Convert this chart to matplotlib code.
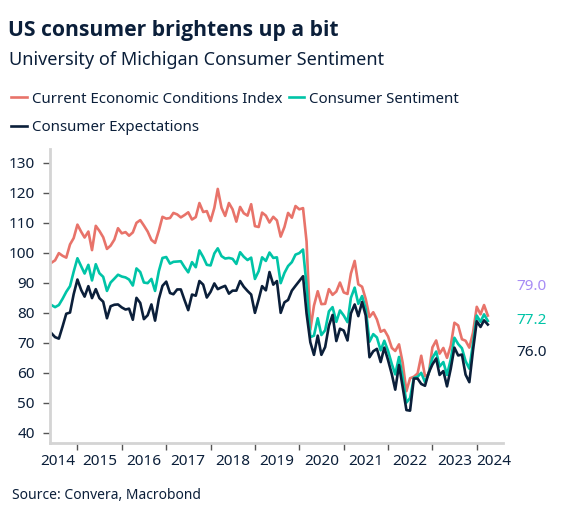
import matplotlib
matplotlib.use('Agg')
import matplotlib.pyplot as plt
import matplotlib.dates as mdates
import pandas as pd
import datetime as dt

plt.rcParams['font.family'] = ['Noto Sans', 'DejaVu Sans']

NAVY = '#0b1f3a'
RED = '#e8736a'
TEAL = '#00c4a7'
LAVENDER = '#a78cf5'

# monthly, Jun 2014 - Apr 2024
start = '2014-06-01'

current = [
    96.6, 97.4, 99.8, 98.9, 98.3, 102.7, 104.8,
    109.3, 106.9, 105.0, 107.0, 100.8, 108.9, 107.2, 105.1, 101.2, 102.3, 104.3, 108.1,
    106.4, 106.8, 105.6, 106.7, 109.9, 110.8, 109.0, 107.0, 104.2, 103.2, 107.3, 111.9,
    111.3, 111.5, 113.2, 112.7, 111.7, 112.5, 113.4, 111.0, 111.8, 116.5, 113.5, 113.8,
    110.5, 114.9, 121.2, 114.9, 112.2, 116.5, 114.4, 110.3, 115.2, 113.1, 112.3, 116.1,
    108.8, 108.5, 113.3, 112.3, 110.0, 111.9, 110.7, 105.3, 108.5, 113.2, 111.6, 115.5,
    114.4, 114.8, 103.7, 74.3, 82.3, 87.1, 82.8, 82.9, 87.8, 85.9, 87.0, 90.0,
    86.7, 86.2, 93.0, 97.2, 89.4, 88.6, 84.5, 78.5, 80.1, 77.7, 73.6, 74.2,
    72.0, 68.2, 67.2, 69.4, 63.3, 53.8, 58.1, 58.6, 59.7, 65.6, 58.8, 59.4,
    68.4, 70.7, 66.3, 68.2, 64.9, 69.0, 76.6, 75.7, 71.1, 70.6, 68.3, 73.3,
    81.9, 79.4, 82.5, 79.0,
]

sentiment = [
    82.5, 81.8, 82.5, 84.6, 86.9, 88.8, 93.6,
    98.1, 95.4, 93.0, 95.9, 90.7, 96.1, 93.1, 91.9, 87.2, 90.0, 91.3, 92.6,
    92.0, 91.7, 91.0, 89.0, 94.7, 93.5, 90.0, 89.8, 91.2, 87.2, 93.8, 98.2,
    98.5, 96.3, 96.9, 97.0, 97.1, 95.1, 93.4, 96.8, 95.1, 100.7, 98.5, 95.9,
    95.7, 99.7, 101.4, 98.8, 98.0, 98.2, 97.9, 96.2, 100.1, 98.6, 97.5, 98.3,
    91.2, 93.8, 98.4, 97.2, 100.0, 98.2, 98.4, 89.8, 93.2, 95.5, 96.8, 99.3,
    99.8, 101.0, 89.1, 71.8, 72.3, 78.1, 72.5, 74.1, 80.4, 81.8, 76.9, 80.7,
    79.0, 76.8, 84.9, 88.3, 82.9, 85.5, 81.2, 70.3, 72.8, 71.7, 67.4, 70.6,
    67.2, 62.8, 59.4, 65.2, 58.4, 50.0, 51.5, 58.2, 58.6, 59.9, 56.8, 59.7,
    64.9, 67.0, 62.0, 63.5, 59.2, 64.4, 71.6, 69.5, 68.1, 63.8, 61.3, 69.7,
    79.0, 76.9, 79.4, 77.2,
]

expectations = [
    73.1, 71.8, 71.3, 75.4, 79.6, 80.0, 86.1,
    91.0, 87.5, 85.3, 88.8, 84.8, 87.8, 84.8, 83.6, 78.1, 82.1, 82.6, 82.7,
    81.7, 81.0, 81.3, 77.6, 84.9, 83.2, 77.8, 79.1, 82.7, 77.3, 84.5, 88.9,
    90.3, 86.5, 86.1, 87.7, 87.7, 84.1, 80.8, 86.0, 85.6, 90.5, 89.3, 85.0,
    86.9, 89.7, 87.8, 88.4, 88.9, 86.3, 87.3, 87.3, 90.5, 88.6, 87.2, 86.0,
    79.9, 84.4, 88.8, 87.4, 93.5, 89.3, 90.5, 79.9, 83.4, 84.2, 87.3, 88.9,
    90.5, 92.1, 79.7, 70.1, 65.9, 72.3, 65.9, 68.5, 75.6, 79.2, 70.5, 74.6,
    74.0, 70.7, 79.7, 82.7, 78.8, 83.5, 79.0, 65.1, 67.1, 67.9, 63.5, 68.3,
    64.1, 59.4, 54.3, 62.5, 55.2, 47.5, 47.3, 58.0, 58.0, 56.2, 55.6, 59.9,
    62.7, 64.7, 59.2, 60.5, 55.4, 61.3, 68.3, 65.7, 66.0, 59.3, 56.8, 67.4,
    77.1, 75.2, 77.4, 76.0,
]

dates = pd.date_range(start, periods=len(current), freq='MS')
years = list(range(2014, 2025))

fig = plt.figure(figsize=(5.66, 5.21), dpi=100)
ax = fig.add_axes([0.0883, 0.149, 0.8004, 0.565])

l_cur, = ax.plot(dates, current, color=RED, lw=1.9, label='Current Economic Conditions Index')
l_sen, = ax.plot(dates, sentiment, color=TEAL, lw=1.9, label='Consumer Sentiment')
l_exp, = ax.plot(dates, expectations, color=NAVY, lw=1.9, label='Consumer Expectations')

ax.set_xlim(dt.datetime(2014, 5, 20), dt.datetime(2024, 8, 4))
ax.set_ylim(36.4, 134.5)
ax.set_yticks(range(40, 131, 10))

# year boundaries as ticks, labels in between
ax.set_xticks([dt.datetime(y, 1, 1) for y in years[1:]])
ax.xaxis.set_major_formatter(plt.NullFormatter())
lbl_pos = [dt.datetime(y, 7, 1) for y in years]
lbl_pos[0] = dt.datetime(2014, 7, 20)
lbl_pos[-1] = dt.datetime(2024, 5, 20)
ax.set_xticks(lbl_pos, minor=True)
ax.set_xticklabels([str(y) for y in years], minor=True)
ax.tick_params(axis='x', which='minor', length=0, pad=8, labelsize=11, labelcolor=NAVY)
ax.tick_params(axis='x', which='major', length=5, width=1, color='#555555')
ax.tick_params(axis='y', length=5, width=1, color='#555555', labelsize=11, labelcolor=NAVY, pad=6)

for s in ['top', 'right']:
    ax.spines[s].set_visible(False)
for s in ['left', 'bottom']:
    ax.spines[s].set_color('#d4d4d4')
    ax.spines[s].set_linewidth(2)

# last values at the right
fig.text(0.966, 1 - 287 / 521, f'{current[-1]:.1f}', color=LAVENDER, fontsize=11, ha='right', va='center')
fig.text(0.966, 1 - 320 / 521, f'{sentiment[-1]:.1f}', color=TEAL, fontsize=11, ha='right', va='center')
fig.text(0.966, 1 - 352 / 521, f'{expectations[-1]:.1f}', color=NAVY, fontsize=11, ha='right', va='center')

fig.text(0.015, 0.942, 'US consumer brightens up a bit', fontsize=15.2, fontweight='bold',
         family=['Open Sans', 'DejaVu Sans'], color=NAVY, va='center')
fig.text(0.016, 0.885, 'University of Michigan Consumer Sentiment', fontsize=13, color=NAVY, va='center')

fig.legend([l_cur, l_exp, l_sen],
           [l_cur.get_label(), l_exp.get_label(), l_sen.get_label()],
           ncol=2, loc='upper left', bbox_to_anchor=(0.012, 0.833),
           frameon=False, fontsize=10.8, handlelength=1.05, handletextpad=0.3,
           columnspacing=0.45, labelspacing=0.9, labelcolor=NAVY,
           borderaxespad=0, borderpad=0.3)

fig.text(0.022, 0.048, 'Source: Convera, Macrobond', fontsize=10, color=NAVY, va='center')

fig.savefig('out.png', dpi=100)
